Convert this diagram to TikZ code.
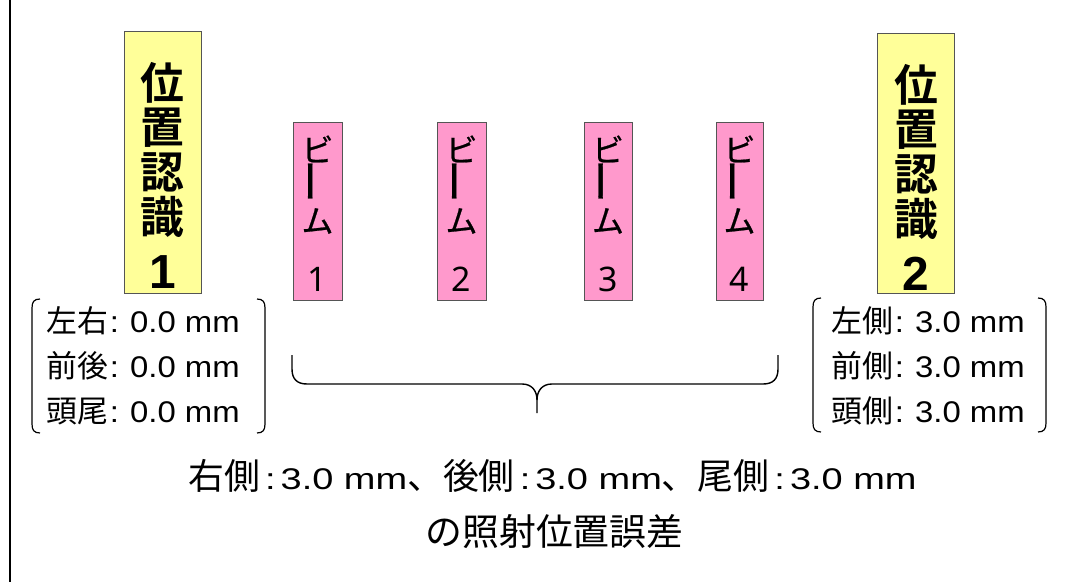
\documentclass[tikz,border=0pt]{standalone}
\usepackage{fontspec}
\setmainfont{Liberation Sans}
\newfontfamily\jp{Noto Sans CJK JP}
\newfontfamily\jpm{Noto Sans CJK JP}[FakeBold=0.7]
\newfontfamily\jpb{Noto Sans CJK JP Bold}
\newfontfamily\nsans{Noto Sans}
\newfontfamily\latn{Liberation Sans}[FakeStretch=1.1]
\newfontfamily\latw{Liberation Sans}[FakeStretch=1.27]
\newcommand{\setfs}[1]{\fontsize{#1}{#1}\selectfont}
\definecolor{ylw}{HTML}{FFFF99}
\definecolor{pnk}{HTML}{FF99CC}
\definecolor{edge}{HTML}{555555}
\newcommand{\bline}[2]{{\jp\setfs{31}#1}{\latn\setfs{30}\hspace{2bp}:\hspace{11bp}#2}}
\tikzset{
  ybox/.style={draw=edge, fill=ylw, line width=1bp, minimum width=77bp, minimum height=262bp, anchor=north west, inner sep=0pt},
  pbox/.style={draw=edge, fill=pnk, line width=1bp, minimum width=48bp, minimum height=178bp, anchor=north west, inner sep=0pt},
  ychar/.style={inner sep=0pt, font=\jpb\setfs{44}},
  ydig/.style={inner sep=0pt, font=\bfseries\setfs{48}},
  bchar/.style={inner sep=0pt, font=\jpm\setfs{32}},
  bdig/.style={inner sep=0pt, font=\nsans\setfs{34}},
  bltext/.style={inner sep=0pt, anchor=base west},
  brk/.style={draw=black, line width=1.2bp},
  brc/.style={draw=black, line width=1.4bp},
}
\begin{document}
\begin{tikzpicture}[x=1bp,y=-1bp]
\useasboundingbox (0,0) rectangle (1071,582);
\fill[white] (0,0) rectangle (1071,582);
\draw[line width=1.3bp] (10,0) -- (10,582);
% position recognition boxes
\node[ybox, minimum width=77bp] (p1) at (124,31) {};
\node[ybox, minimum width=77bp, minimum height=260bp] (p2) at (877,33) {};
\foreach \c/\yy/\n in {位/83/a,置/127.5/b,認/172/c,識/216.5/d}{
  \node[ychar] (p1\n) at (162.5,\yy) {\c};
  \node[ychar] (p2\n) at (916,\yy+2) {\c};
}
\node[ydig] (p1e) at (162.5,272) {1};
\node[ydig] (p2e) at (916,274) {2};
% beams
\foreach \x/\w/\k/\cx in {293/49/1/317.5, 437/49/2/461.5, 584/48/3/608, 716/47/4/739.5}{
  \node[pbox, minimum width=\w bp] (b\k) at (\x,122) {};
  \node[bchar] (b\k a) at (\cx,149) {ビ};
  \node[bchar, rotate=90, font=\jpm\setfs{44}] (b\k b) at (\cx,181) {ー};
  \node[bchar] (b\k c) at (\cx,221) {ム};
  \node[bdig] (b\k d) at (\cx,279.5) {\k};
}
% left bracket box
\draw[brk] (40,299) .. controls (34,299) and (32,302) .. (32,308) -- (32,424) .. controls (32,430) and (34,433) .. (40,433);
\draw[brk] (257,299) .. controls (263,299) and (265,302) .. (265,308) -- (265,424) .. controls (265,430) and (263,433) .. (257,433);
\node[bltext] (l1) at (46,332) {\bline{左右}{0.0 mm}};
\node[bltext] (l2) at (46,377) {\bline{前後}{0.0 mm}};
\node[bltext] (l3) at (46,422) {\bline{頭尾}{0.0 mm}};
% right bracket box
\draw[brk] (821,298) .. controls (815,298) and (813,301) .. (813,307) -- (813,423) .. controls (813,429) and (815,432) .. (821,432);
\draw[brk] (1038,298) .. controls (1044,298) and (1046,301) .. (1046,307) -- (1046,423) .. controls (1046,429) and (1044,432) .. (1038,432);
\node[bltext] (r1) at (831,332) {\bline{左側}{3.0 mm}};
\node[bltext] (r2) at (831,377) {\bline{前側}{3.0 mm}};
\node[bltext] (r3) at (831,422) {\bline{頭側}{3.0 mm}};
% brace
\draw[brc] (292,355) -- (292,369) .. controls (292,379) and (297,384) .. (307,384) -- (522,384) .. controls (532,384) and (537,391) .. (537,400) -- (537,413);
\draw[brc] (778,355) -- (778,369) .. controls (778,379) and (773,384) .. (763,384) -- (552,384) .. controls (542,384) and (537,391) .. (537,400);
% summary
\node[inner sep=0pt, anchor=base] (s1) at (552.5,489) {{\jp\setfs{36}右側}{\latw\setfs{30}\,:\,3.0 mm}{\jp\setfs{36}、後側}{\latw\setfs{30}\,:\,3.0 mm}{\jp\setfs{36}、尾側}{\latw\setfs{30}\,:\,3.0 mm}};
\node[inner sep=0pt, anchor=base] (s2) at (554.5,545) {\jp\setfs{37}の照射位置誤差};
\end{tikzpicture}
\end{document}
